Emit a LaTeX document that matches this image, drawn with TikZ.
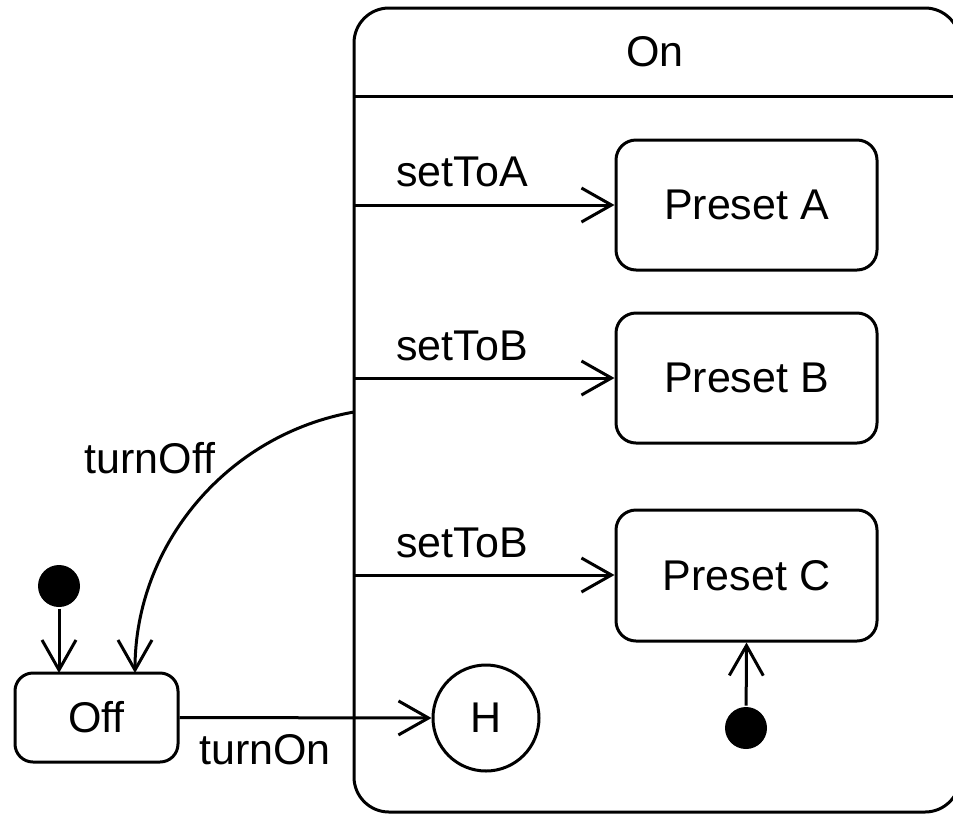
\documentclass[tikz,border=0pt]{standalone}
\usepackage{fontspec}
\setmainfont{Liberation Sans}
\usetikzlibrary{arrows.meta}
\begin{document}
\begin{tikzpicture}[x=1pt,y=-1pt,line width=3pt,
  font=\fontsize{43}{50}\selectfont,
  state/.style={draw,rounded corners=20pt,minimum width=261pt,minimum height=130pt,inner sep=0pt},
  trans/.style={-{Straight Barb[length=30pt,width=34pt]}},
  initdot/.style={circle,fill,minimum size=42pt,inner sep=0pt},
  lbl/.style={inner sep=0pt}]
\useasboundingbox (0,0) rectangle (953,815);
\clip (0,0) rectangle (953,815);

% composite state On with its header compartment
\node[draw,rounded corners=35pt,minimum width=606pt,minimum height=804pt,inner sep=0pt] (on) at (657,410) {};
\node[lbl] (ontitle) at (655,52) {On};
\coordinate (hl) at (354,96);
\coordinate (hr) at (960,96);
\draw (hl) -- (hr);

% substates
\node[state] (pa) at (746.5,205) {Preset A};
\node[state] (pb) at (746.5,378) {Preset B};
\node[state,minimum height=131pt] (pc) at (746.5,575.5) {Preset C};
\node[draw,circle,minimum size=106pt,inner sep=0pt] (hist) at (486,718) {H};
\node[initdot] (initC) at (746,728) {};

% outer state Off and its initial pseudostate
\node[draw,rounded corners=18pt,minimum width=163pt,minimum height=89pt,inner sep=0pt] (off) at (96.5,717.5) {Off};
\node[initdot] (initOff) at (59,586) {};

% transition origins on the border of On
\coordinate (sA) at (354,205);
\coordinate (sB) at (354,378);
\coordinate (sC) at (354,575);
\coordinate (sOff) at (354,412);
\coordinate (offA) at (59,673);
\coordinate (offB) at (135,673);

\draw[trans] (sA) -- (pa.west);
\draw[trans] (sB) -- (pb.west);
\draw[trans] (sC) -- (pc.west |- sC);
\draw[trans] (initC) -- (pc.south);
\draw[trans] (initOff) -- (offA);
\draw[trans] (sOff) .. controls (227.3,434.3) and (135,544.4) .. (offB);
\draw[trans] (off.east) -- (hist.west);

% transition labels
\node[lbl] (lA) at (462,172) {setToA};
\node[lbl] (lB) at (462,346) {setToB};
\node[lbl] (lC) at (462,543) {setToB};
\node[lbl] (lOff) at (150,458) {turnOff};
\node[lbl] (lOn) at (265,750) {turnOn};
\end{tikzpicture}
\end{document}
